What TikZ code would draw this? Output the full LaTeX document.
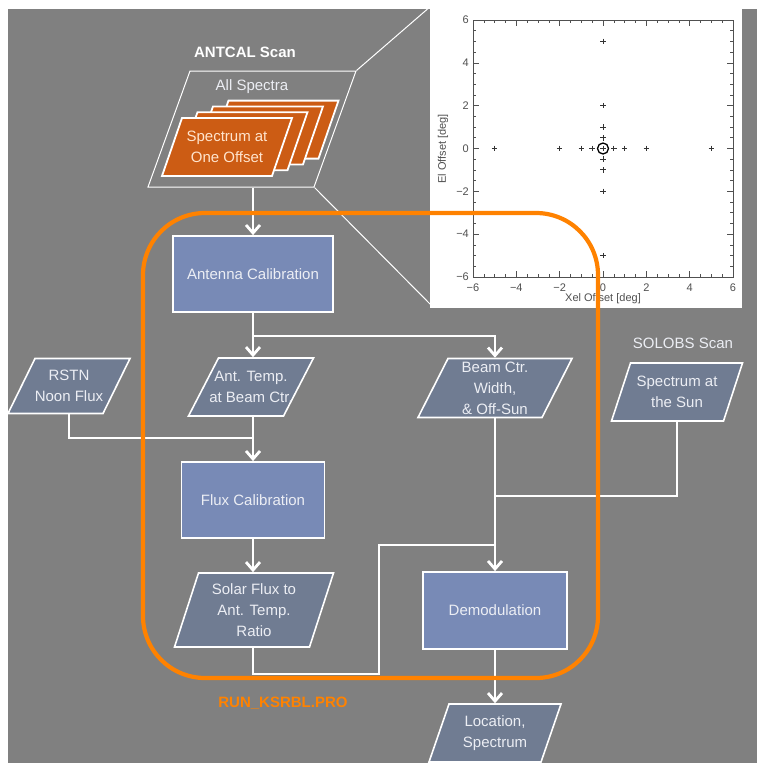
\documentclass[tikz,border=0pt]{standalone}
\usepackage{fontspec}
\setmainfont{Liberation Sans}
\usetikzlibrary{arrows.meta,calc}
\definecolor{bggray}{RGB}{128,128,128}
\definecolor{procfill}{RGB}{120,138,182}
\definecolor{datafill}{RGB}{112,124,146}
\definecolor{runorange}{RGB}{255,130,0}
\definecolor{cardfill}{RGB}{204,92,20}
\definecolor{cardtext}{RGB}{255,228,205}
\definecolor{txt}{RGB}{236,238,244}
\definecolor{plotgray}{RGB}{80,80,80}
\tikzset{
  basefont/.style={font=\fontsize{15}{21}\selectfont},
  procbox/.style={draw=white, line width=1.8pt, fill=procfill, text=txt, basefont, inner sep=0pt, align=center},
  databox/.style={draw=white, line width=1.6pt, fill=datafill, text=txt, basefont, align=center, line join=miter},
  cardbox/.style={draw=white, line width=1.8pt, fill=cardfill, text=cardtext, basefont, align=center},
  framebox/.style={draw=white, line width=1pt, text=txt, basefont},
  conn/.style={draw=white, line width=2.8pt},
  arr/.style={conn, -{Straight Barb[length=8pt,width=14pt]}},
  thinline/.style={draw=white, line width=1pt},
  tick/.style={draw=plotgray, line width=0.6pt},
  ticklab/.style={text=plotgray, font=\fontsize{11}{11}\selectfont, inner sep=0pt},
  pmark/.style={draw=black!80, line width=0.9pt},
}
% parallelogram: style, name, x, y, edge width, height, slant, text
\newcommand{\mypara}[8]{%
  \path[#1] ({#3-#5/2-#7/2},{#4+#6/2}) -- ({#3+#5/2-#7/2},{#4+#6/2})
     -- ({#3+#5/2+#7/2},{#4-#6/2}) -- ({#3-#5/2+#7/2},{#4-#6/2}) -- cycle;
  \node[#1, draw=none, fill=none, inner sep=0pt, minimum width=#5, minimum height=#6] (#2) at (#3,#4) {#8};%
}
\begin{document}
\begin{tikzpicture}[x=1pt,y=-1pt]
\useasboundingbox (0,0) rectangle (757,763);
\fill[white] (0,0) rectangle (757,763);
\fill[bggray] (8,9) rectangle (757,763);

% ---------------- plot ----------------
\fill[white] (430,0) rectangle (742,308);
\draw[tick] (473,20) rectangle (733,277);
\foreach \i in {1,...,23}{
  \pgfmathsetmacro\len{ifthenelse(mod(\i,4)==0,6,3)}
  \draw[tick] ({473+\i*10.833},277) -- ++(0,-\len);
  \draw[tick] ({473+\i*10.833},20) -- ++(0,\len);
  \draw[tick] (473,{20+\i*10.708}) -- ++(\len,0);
  \draw[tick] (733,{20+\i*10.708}) -- ++(-\len,0);
}
\foreach \v/\t in {-6/−6,-4/−4,-2/−2,0/0,2/2,4/4,6/6}{
  \node[ticklab] at ({603+21.667*\v},288) {\t};
  \node[ticklab, anchor=east] at (469,{148.5-21.417*\v}) {\t};
}
\node[ticklab] at (603,299) {Xel Offset [deg]};
\node[ticklab, rotate=90] at (443,149) {El Offset [deg]};
\foreach \a/\b in {0/5,0/2,0/1,0/0.5,0/0,0/-0.5,0/-1,0/-2,0/-5,-5/0,-2/0,-1/0,-0.5/0,0.5/0,1/0,2/0,5/0}{
  \draw[pmark] ({603+21.667*\a-2.8},{148.5-21.417*\b}) -- ++(5.6,0);
  \draw[pmark] ({603+21.667*\a},{148.5-21.417*\b-2.8}) -- ++(0,5.6);
}
\draw[black, line width=1.3pt] (603,148.5) circle (5.5);

% ---------------- ANTCAL scan ----------------
\node[text=white, font=\fontsize{15}{15}\selectfont\bfseries] (antcaltitle) at (245,52) {ANTCAL Scan};
\mypara{framebox}{allspec}{252}{129}{166}{116}{42}{}
\node[text=txt, basefont] (alllabel) at (252,87) {All Spectra};
\foreach \k in {3,2,1}{
  \pgfmathsetmacro\cx{227+15.5*\k}
  \pgfmathsetmacro\cy{147-5.8*\k}
  \mypara{cardbox}{card\k}{\cx}{\cy}{110}{58}{20}{}
}
\mypara{cardbox}{card0}{227}{147}{110}{58}{20}{Spectrum at\\One Offset}

\coordinate (spectr) at ($(allspec.north east)+(21,0)$);
\coordinate (specbr) at ($(allspec.south east)+(-21,0)$);
\coordinate (plottl) at (431,6);
\coordinate (plotbl) at (432,306);
\draw[thinline] (spectr) -- (plottl);
\draw[thinline] (specbr) -- (plotbl);

% ---------------- nodes ----------------
\node[procbox, minimum width=160pt, minimum height=76pt] (antcal) at (253,274) {Antenna Calibration};
\mypara{databox}{anttemp}{251}{387}{95}{58}{30}{Ant. Temp.\\at Beam Ctr.}
\mypara{databox}{beam}{495}{388}{124}{59}{30}{Beam Ctr.\\Width,\\\& Off-Sun}
\mypara{databox}{rstn}{69}{386}{95}{55}{27}{RSTN\\Noon Flux}
\node[text=txt, basefont] (solobs) at (683,343) {SOLOBS Scan};
\mypara{databox}{sun}{677}{392}{112}{58}{19}{Spectrum at\\the Sun}
\node[procbox, minimum width=143pt, minimum height=76pt] (flux) at (253,500) {Flux Calibration};
\mypara{databox}{solar}{254}{610}{135}{74}{24}{Solar Flux to\\Ant. Temp.\\Ratio}
\node[procbox, minimum width=144pt, minimum height=77pt] (demod) at (495,610.5) {Demodulation};
\mypara{databox}{loc}{495}{733}{112}{58}{20}{Location,\\Spectrum}
\node[text=runorange, font=\fontsize{15}{15}\selectfont\bfseries] (runlabel) at (283,703) {RUN\_KSRBL.PRO};

% ---------------- connectors ----------------
\coordinate (split) at (253,336);
\coordinate (join1) at (253,438);
\coordinate (r1) at (379,674);
\coordinate (r2) at (379,545);
\coordinate (r3) at (495,545);
\coordinate (join2) at (495,496);

\draw[arr] (allspec.south -| antcal.north) -- (antcal.north);
\draw[arr] (antcal.south) -- (anttemp.north -| antcal.south);
\draw[arr] (split) -| (beam.north);
\draw[conn] (rstn.south) |- (join1);
\draw[conn] (anttemp.south -| antcal.south) -- (join1);
\draw[arr] (join1) -- (flux.north);
\draw[arr] (flux.south) -- (solar.north -| flux.south);
\draw[conn] (solar.south -| flux.south) |- (r1) -- (r2) -- (r3);
\draw[conn] (sun.south) |- (join2);
\draw[arr] (beam.south) -- (demod.north);
\draw[arr] (demod.south) -- (loc.north);

% ---------------- run boundary ----------------
\draw[runorange, line width=4.2pt, rounded corners=62pt] (143,213) rectangle (598,678);
\end{tikzpicture}
\end{document}
